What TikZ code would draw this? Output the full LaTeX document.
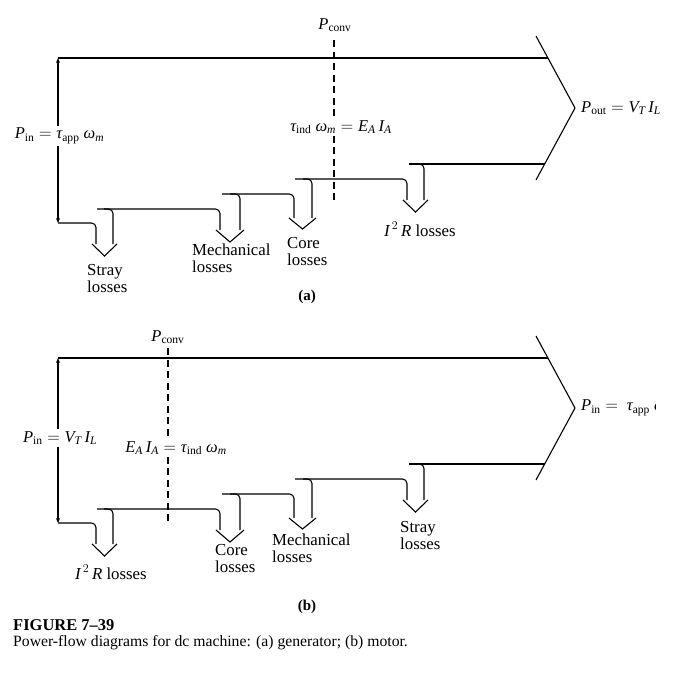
\documentclass[tikz,border=0pt]{standalone}
\usepackage{fontspec}
\setmainfont{Liberation Serif}
\usetikzlibrary{arrows.meta}
\newcommand\gtau{\mbox{\itshape τ}}
\newcommand\gomega{\mbox{\itshape ω}}
\begin{document}
\begin{tikzpicture}[x=1pt,y=-1pt,
  flow/.style={line width=1.1pt, rounded corners=4.5pt},
  vee/.style={line width=1.1pt, sharp corners, line join=miter},
  dashln/.style={line width=1.1pt, dash pattern=on 7pt off 4.5pt},
  lbl/.style={font=\fontsize{16.8}{17}\selectfont, inner sep=0pt, align=left, anchor=north west},
  eq/.style={font=\fontsize{16.5}{17}\selectfont, fill=white, inner sep=2pt},
  tip/.style={-{Stealth[length=5pt,width=4pt]}, line width=1.1pt}]
\useasboundingbox (0,0) rectangle (683,689);
\fill[white] (0,0) rectangle (683,689);

% ================= (a) generator =================
\coordinate (aT) at (58,58);
\coordinate (aB) at (58,223);
\coordinate (aTR) at (548,58);
\coordinate (aTip) at (575,108);
\draw[flow] (aT) -- (aTR);
\draw[vee] (536,36) -- (aTip) -- (536,180);
\node[eq] (aPin) at (59.5,136) {$\mathit{P}_{\mathrm{in}} = \gtau_{\mathrm{app}}\ \gomega_{\mathit{m}}$};
\draw[tip] (aPin.north -| aT) -- (aT);
\draw[tip] (aPin.south -| aB) -- (aB);
% stray
\draw[flow] (aB) -- (96,223) -- (96,244);
\draw[vee] (92,244) -- (104.5,256) -- (117,244);
\draw[flow] (104,209) -- (113,209) -- (113,244);
\draw[flow] (97,209) -- (220,209) -- (220,230);
% mechanical
\draw[vee] (216,230) -- (230,242) -- (244,230);
\draw[flow] (230,194) -- (240,194) -- (240,230);
\draw[flow] (222,194) -- (294,194) -- (294,218);
% core
\draw[vee] (289,218) -- (302.5,229) -- (316,218);
\draw[flow] (303,179) -- (312,179) -- (312,218);
\draw[flow] (295,179) -- (407,179) -- (407,200);
% I2R
\draw[vee] (403,200) -- (415.5,212) -- (428,200);
\draw[flow] (416,164) -- (424,164) -- (424,200);
\draw[flow] (409,164) -- (545,164);
% Pconv
\node[eq] (aPconv) at (335,25) {$\mathit{P}_{\mathrm{conv}}$};
\node[eq] (aEq) at (341,127) {$\gtau_{\mathrm{ind}}\ \gomega_{\mathit{m}} = \mathit{E}_{\mathit{A}}\,\mathit{I}_{\mathit{A}}$};
\coordinate (aD1) at (334,40);
\coordinate (aD2) at (334,203);
\draw[dashln] (aD1) -- (aEq.north -| aD1);
\draw[dashln] (aEq.south -| aD1) -- (aD2);
\node[anchor=west, font=\fontsize{16.5}{17}\selectfont, inner sep=0pt] (aPout) at (581,108) {$\mathit{P}_{\mathrm{out}} = \mathit{V}_{\mathit{T}}\,\mathit{I}_{\mathit{L}}$};
% labels
\node[lbl] (aStray) at (87,264) {Stray\\losses};
\node[lbl] (aMech) at (192,244) {Mechanical\\losses};
\node[lbl] (aCore) at (287,237) {Core\\losses};
\node[lbl] (aI2R) at (384,222) {$\mathit{I}^{\,2}\,\mathit{R}$ losses};
\node[font=\bfseries\fontsize{15}{16}\selectfont, inner sep=0pt] (aCap) at (307,297) {(a)};

% ================= (b) motor =================
\coordinate (bT) at (58,358);
\coordinate (bB) at (58,523);
\coordinate (bTR) at (548,358);
\coordinate (bTip) at (575,408);
\draw[flow] (bT) -- (bTR);
\draw[vee] (536,336) -- (bTip) -- (536,480);
\node[eq] (bPin) at (60,438) {$\mathit{P}_{\mathrm{in}} = \mathit{V}_{\mathit{T}}\,\mathit{I}_{\mathit{L}}$};
\draw[tip] (bPin.north -| bT) -- (bT);
\draw[tip] (bPin.south -| bB) -- (bB);
% I2R
\draw[flow] (bB) -- (96,523) -- (96,544);
\draw[vee] (92,544) -- (104.5,556) -- (117,544);
\draw[flow] (104,509) -- (113,509) -- (113,544);
\draw[flow] (97,509) -- (220,509) -- (220,530);
% core
\draw[vee] (216,530) -- (230,542) -- (244,530);
\draw[flow] (230,494) -- (240,494) -- (240,530);
\draw[flow] (222,494) -- (294,494) -- (294,518);
% mechanical
\draw[vee] (289,518) -- (302.5,529) -- (316,518);
\draw[flow] (303,479) -- (312,479) -- (312,518);
\draw[flow] (295,479) -- (407,479) -- (407,500);
% stray
\draw[vee] (403,500) -- (415.5,512) -- (428,500);
\draw[flow] (416,464) -- (424,464) -- (424,500);
\draw[flow] (409,464) -- (545,464);
% Pconv
\node[eq] (bPconv) at (168,337) {$\mathit{P}_{\mathrm{conv}}$};
\node[eq] (bEq) at (176,448) {$\mathit{E}_{\mathit{A}}\,\mathit{I}_{\mathit{A}} = \gtau_{\mathrm{ind}}\ \gomega_{\mathit{m}}$};
\coordinate (bD1) at (168,348);
\coordinate (bD2) at (168,525);
\draw[dashln] (bD1) -- (bEq.north -| bD1);
\draw[dashln] (bEq.south -| bD1) -- (bD2);
\begin{scope}
\clip (560,380) rectangle (655,440);
\node[anchor=west, font=\fontsize{16.5}{17}\selectfont, inner sep=0pt] (bPout) at (581,408) {$\mathit{P}_{\mathrm{in}} =\ \gtau_{\mathrm{app}}\ \gomega_{\mathit{m}}$};
\end{scope}
% labels
\node[lbl] (bI2R) at (75,565) {$\mathit{I}^{\,2}\,\mathit{R}$ losses};
\node[lbl] (bCore) at (215,544) {Core\\losses};
\node[lbl] (bMech) at (272,534) {Mechanical\\losses};
\node[lbl] (bStray) at (400,521) {Stray\\losses};
\node[font=\bfseries\fontsize{15}{16}\selectfont, inner sep=0pt] (bCap) at (307,607) {(b)};

% caption
\node[anchor=west, inner sep=0pt, font=\bfseries\fontsize{16.5}{17}\selectfont] (fig) at (13,625) {FIGURE 7\textendash 39};
\node[anchor=west, inner sep=0pt, font=\fontsize{15.7}{16}\selectfont] (cap) at (13,643) {Power-flow diagrams for dc machine: (a) generator; (b) motor.};
\end{tikzpicture}
\end{document}
